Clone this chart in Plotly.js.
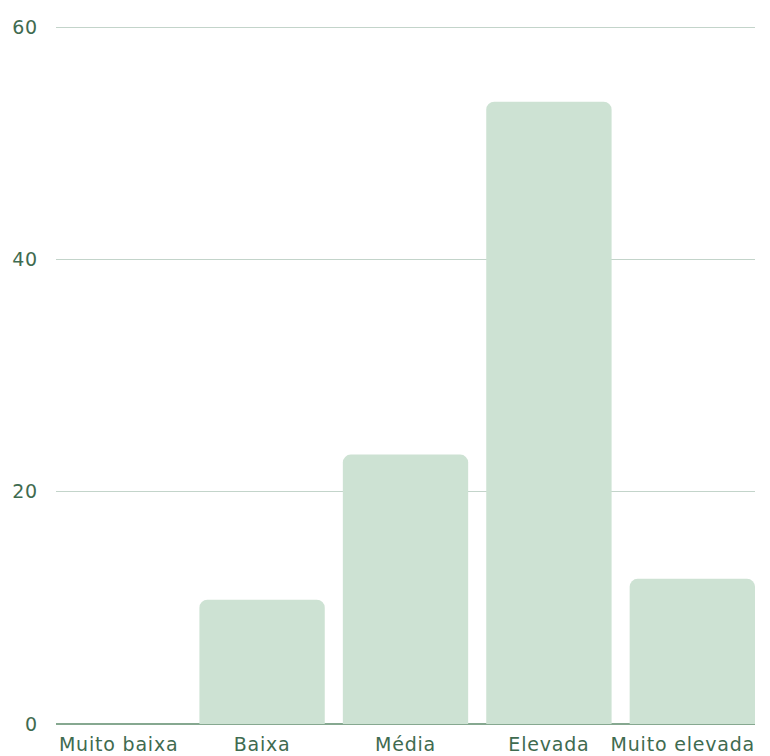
<!DOCTYPE html>
<html>
<head>
<meta charset="utf-8">
<script src="https://cdn.plot.ly/plotly-3.0.1.min.js"></script>
<style>
html,body{margin:0;padding:0;background:#fff;}
#chart{width:770px;height:756px;}
#chart .xtick text, #chart .ytick text{letter-spacing:0.8px;}
</style>
</head>
<body>
<div id="chart"></div>
<script>
const categories = ["Muito baixa", "Baixa", "Média", "Elevada", "Muito elevada"];
const values = [0, 10.7, 23.2, 53.6, 12.5];
const yTicks = [0, 20, 40, 60];

const textColor = "#3f6b50";
const fontFamily = "DejaVu Sans, sans-serif";

const trace = {
  type: "bar",
  x: categories,
  y: values,
  marker: { color: "#cde2d3", cornerradius: 8, line: { width: 0 } },
  hoverinfo: "x+y"
};

const layout = {
  width: 770,
  height: 756,
  margin: { l: 56, r: 15, t: 25, b: 32 },
  paper_bgcolor: "#ffffff",
  plot_bgcolor: "#ffffff",
  showlegend: false,
  bargap: 0.126,
  font: { family: fontFamily, size: 19, color: textColor },
  xaxis: {
    type: "category",
    range: [-0.437, 4.437],
    showgrid: false,
    showline: false,
    zeroline: false,
    ticks: "",
    ticklabelstandoff: 7,
    tickfont: { family: fontFamily, size: 19, color: textColor }
  },
  yaxis: {
    range: [0, 60.2],
    tickvals: yTicks,
    ticktext: yTicks.map(String),
    showgrid: true,
    gridcolor: "#c3d4ca",
    gridwidth: 1.2,
    zeroline: true,
    zerolinecolor: "#86a890",
    zerolinewidth: 2,
    showline: false,
    ticks: "",
    ticklabelstandoff: 17,
    tickfont: { family: fontFamily, size: 19, color: textColor }
  }
};

Plotly.newPlot("chart", [trace], layout, { displayModeBar: false, staticPlot: true }).then(function () {
  // keep the last category label inside the plot's right edge, as in the reference
  const labels = document.querySelectorAll("#chart .xtick text");
  if (!labels.length) return;
  const last = labels[labels.length - 1];
  const plotRight = layout.width - layout.margin.r;
  const box = last.getBoundingClientRect();
  const overflow = box.right - plotRight;
  if (overflow > 0) {
    const x = parseFloat(last.getAttribute("x") || "0");
    last.setAttribute("x", x - overflow);
  }
});
</script>
</body>
</html>
